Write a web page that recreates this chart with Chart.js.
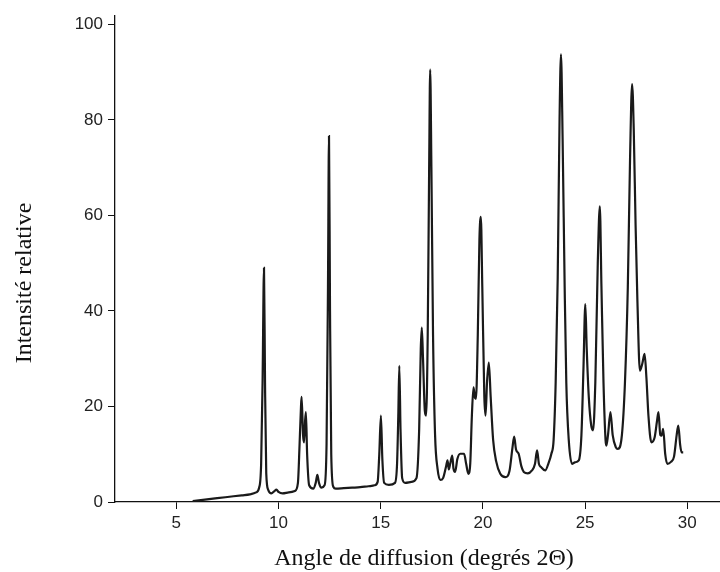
<!DOCTYPE html>
<html lang="fr">

<head>
    <meta charset="UTF-8">
    <title>Diffractogramme</title>
    <script src="https://cdn.jsdelivr.net/npm/chart.js"></script>
    <style>
        html, body { margin: 0; padding: 0; background: #fff; }
        #wrap { width: 720px; height: 572px; }
    </style>
</head>

<body>
    <div id="wrap"><canvas id="xrdChart" width="720" height="572"></canvas></div>

    <script>
        const twoTheta = [
            5.8, 6.2, 6.6, 7.0, 7.4, 7.8, 8.2, 8.6, 8.9, 9.05, 9.15, 9.22, 9.29, 9.34, 9.40, 9.5, 9.65, 9.8, 9.9, 10.0,
            10.2, 10.5, 10.8, 10.95, 11.03, 11.1, 11.13, 11.2, 11.25, 11.3, 11.34, 11.4, 11.5, 11.7, 11.82, 11.9, 11.98,
            12.1, 12.25, 12.35, 12.42, 12.47, 12.52, 12.58, 12.68, 12.8, 13.2, 13.6, 14.0, 14.4, 14.7, 14.85, 14.93,
            15.01, 15.08, 15.17, 15.4, 15.7, 15.8, 15.86, 15.91, 15.97, 16.05, 16.2, 16.5, 16.75, 16.88, 16.96, 17.01,
            17.07, 17.16, 17.22, 17.3, 17.37, 17.42, 17.48, 17.56, 17.66, 17.78, 17.92, 18.05, 18.2, 18.27, 18.33, 18.4,
            18.5, 18.56, 18.64, 18.75, 18.89, 19.08, 19.18, 19.29, 19.38, 19.46, 19.54, 19.6, 19.66, 19.75, 19.83, 19.90,
            19.97, 20.07, 20.13, 20.2, 20.29, 20.38, 20.5, 20.65, 20.85, 21.1, 21.3, 21.45, 21.53, 21.62, 21.75, 21.88,
            22.0, 22.2, 22.4, 22.55, 22.65, 22.74, 22.85, 23.05, 23.2, 23.35, 23.46, 23.56, 23.66, 23.75, 23.82, 23.9,
            24.0, 24.08, 24.2, 24.36, 24.5, 24.69, 24.82, 24.92, 25.01, 25.08, 25.18, 25.3, 25.39, 25.5, 25.62, 25.72,
            25.8, 25.9, 26.0, 26.04, 26.12, 26.24, 26.35, 26.5, 26.6, 26.8, 26.95, 27.09, 27.2, 27.3, 27.38, 27.47,
            27.56, 27.68, 27.8, 27.91, 28.0, 28.1, 28.24, 28.4, 28.52, 28.59, 28.68, 28.74, 28.82, 28.92, 29.02, 29.2,
            29.35, 29.48, 29.56, 29.65, 29.72, 29.8
        ];
        const intensity = [
            0.2, 0.4, 0.6, 0.8, 1.0, 1.2, 1.4, 1.6, 2.0, 3.0, 8, 25, 49, 25, 6, 2.5, 1.8, 2.3, 2.6, 2.1,
            1.8, 2.0, 2.3, 4, 12, 20, 22, 14, 12.5, 17, 18.8, 10, 3.5, 2.8, 4, 5.7, 4,
            3.0, 3.5, 12, 45, 76.6, 40, 10, 3.2, 2.8, 2.9, 3.0, 3.1, 3.3, 3.5, 4.2, 10,
            18.1, 9, 4, 3.6, 4.0, 8, 18, 28.5, 15, 5, 4.0, 4.2, 5, 15, 32, 36.5,
            30, 19, 18.1, 35, 70, 90.5, 70, 35, 14, 7, 4.6, 5, 7.5, 8.7, 6.8, 8,
            9.7, 7, 6.3, 9.0, 10.1, 10.1, 8, 5.9, 8, 18, 24.0, 22, 21.6, 35, 55, 59.7,
            45, 22, 18.1, 25, 29.2, 22, 13, 8.5, 5.9, 5.2, 6.5, 11.5, 13.7, 11, 10.1, 7.5,
            6.3, 6.0, 6.6, 8, 10.8, 8, 7.3, 6.6, 8, 10.1, 13, 25, 47, 80, 93.7, 76,
            45, 25, 13, 8.0, 8.3, 8.7, 14, 28, 41.4, 32, 22, 16, 15.0, 25, 50, 61.9,
            45, 25, 13, 11.8, 14, 18.8, 14, 11.5, 11.1, 14, 25, 45, 72, 87.5, 78, 58,
            42, 27.5, 29, 31.0, 26, 18, 12.5, 13.5, 17, 18.8, 14, 13.9, 15.3, 10, 8.0, 8.4,
            9.5, 14, 16.0, 12, 10.4, 10.4
        ];
        const xTicks = [5, 10, 15, 20, 25, 30];
        const yTicks = [0, 20, 40, 60, 80, 100];
        const xTitle = 'Angle de diffusion (degrés 2Θ)';
        const yTitle = 'Intensité relative';

        const points = twoTheta.map((t, i) => ({ x: t, y: intensity[i] }));

        // titres des axes dessinés à la main pour coller à la position d'origine
        const axisTitles = {
            id: 'axisTitles',
            afterDraw(chart) {
                const ctx = chart.ctx;
                ctx.save();
                ctx.fillStyle = '#111';
                ctx.font = '24px "Liberation Serif", "Times New Roman", serif';
                ctx.textAlign = 'center';
                ctx.textBaseline = 'alphabetic';
                ctx.fillText(xTitle, 424, 565);
                ctx.translate(31, 283);
                ctx.rotate(-Math.PI / 2);
                ctx.fillText(yTitle, 0, 0);
                ctx.restore();
            }
        };

        const tickFont = { family: '"Liberation Sans", Arial, sans-serif', size: 17 };

        new Chart(document.getElementById('xrdChart'), {
            type: 'line',
            data: {
                datasets: [{
                    data: points,
                    borderColor: '#1a1a1a',
                    borderWidth: 2.2,
                    pointRadius: 0,
                    fill: false,
                    cubicInterpolationMode: 'monotone'
                }]
            },
            options: {
                responsive: false,
                animation: false,
                layout: { padding: { top: 13, right: 0, left: 0, bottom: 0 } },
                plugins: { legend: { display: false }, tooltip: { enabled: false } },
                scales: {
                    x: {
                        type: 'linear',
                        min: 2,
                        max: 31.6,
                        afterFit: s => { s.height = 70; },
                        afterBuildTicks: s => { s.ticks = xTicks.map(v => ({ value: v })); },
                        border: { display: true, color: '#111', width: 1.3 },
                        grid: { drawOnChartArea: false, drawTicks: true, tickLength: 7, color: '#111' },
                        ticks: { color: '#222', font: tickFont, padding: 4, maxRotation: 0 }
                    },
                    y: {
                        min: 0,
                        max: 101.9,
                        afterFit: s => { s.width = 115; },
                        afterBuildTicks: s => { s.ticks = yTicks.map(v => ({ value: v })); },
                        border: { display: true, color: '#111', width: 1.3 },
                        grid: { drawOnChartArea: false, drawTicks: true, tickLength: 7, color: '#111' },
                        ticks: { color: '#222', font: tickFont, padding: 5 }
                    }
                }
            },
            plugins: [axisTitles]
        });
    </script>

</body>

</html>
